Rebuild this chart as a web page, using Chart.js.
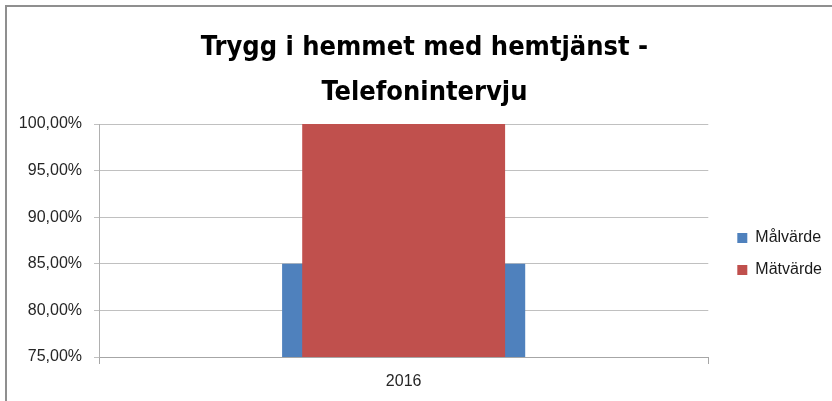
<!DOCTYPE html>
<html>
<head>
<meta charset="utf-8">
<script src="https://cdn.jsdelivr.net/npm/chart.js@4.4.0/dist/chart.umd.min.js"></script>
<style>
html,body{margin:0;padding:0;background:#fff;}
#wrap{position:relative;width:832px;height:401px;overflow:hidden;}
#frame{position:absolute;left:5px;top:5px;right:-10px;bottom:-10px;border-left:2px solid #8f8f8f;border-top:2px solid #8f8f8f;pointer-events:none;}
canvas{display:block;}
</style>
</head>
<body>
<div id="wrap"><canvas id="c" width="832" height="401"></canvas><div id="frame"></div></div>
<script>
const titleLines = ['Trygg i hemmet med hemtjänst -', 'Telefonintervju'];
const categories = ['2016'];
const seriesNames = ['Målvärde', 'Mätvärde'];
const malvarde = [85];
const matvarde = [100];
const yMin = 75, yMax = 100, yStep = 5;

const fmtPct = v => v.toFixed(2).replace('.', ',') + '%';

new Chart(document.getElementById('c'), {
  type: 'bar',
  data: {
    labels: categories,
    datasets: [
      {
        label: seriesNames[0],
        data: malvarde,
        backgroundColor: '#4F81BD',
        borderWidth: 0,
        grouped: false,
        categoryPercentage: 1,
        barPercentage: 0.399,
        order: 1
      },
      {
        label: seriesNames[1],
        data: matvarde,
        backgroundColor: '#C0504D',
        borderWidth: 0,
        grouped: false,
        categoryPercentage: 1,
        barPercentage: 0.333,
        order: 0
      }
    ]
  },
  options: {
    responsive: false,
    animation: false,
    devicePixelRatio: 1,
    layout: { padding: { left: 17, top: 0, right: 0, bottom: 0 } },
    font: { family: "'Liberation Sans', Arial, sans-serif" },
    plugins: {
      tooltip: { enabled: false },
      title: {
        display: true,
        text: titleLines,
        color: '#000',
        font: { family: "'DejaVu Sans Condensed', 'Liberation Sans', sans-serif", size: 27, weight: 'bold', lineHeight: 1.6667 },
        padding: { top: 25, bottom: 9 }
      },
      legend: {
        display: true,
        position: 'right',
        align: 'center',
        fullSize: false,
        title: { display: true, text: ' ', font: { size: 1, lineHeight: 1 }, padding: { top: 13, bottom: 13 } },
        labels: {
          boxWidth: 10,
          boxHeight: 10,
          padding: 16,
          color: '#1a1a1a',
          font: { family: "'Liberation Sans', Arial, sans-serif", size: 16 },
          sort: (a, b) => a.datasetIndex - b.datasetIndex
        }
      }
    },
    scales: {
      x: {
        offset: true,
        grid: { display: true, drawOnChartArea: false, drawTicks: true, tickLength: 7, color: '#a6a6a6', offset: true },
        border: { display: true, color: '#a6a6a6', width: 1 },
        ticks: { color: '#262626', padding: 8, font: { family: "'Liberation Sans', Arial, sans-serif", size: 16 } },
        afterFit: s => { s.height = 44; }
      },
      y: {
        position: 'left',
        min: yMin,
        max: yMax,
        ticks: { stepSize: yStep, color: '#262626', padding: 12, callback: v => fmtPct(v), font: { family: "'Liberation Sans', Arial, sans-serif", size: 16 } },
        grid: { color: '#c0c0c0', tickLength: 5, drawTicks: true },
        border: { display: true, color: '#b0b0b0', width: 1 },
        afterFit: s => { s.width = 82; }
      },
      y2: {
        position: 'right',
        display: true,
        grid: { display: false, drawTicks: false },
        border: { display: false },
        ticks: { display: false },
        afterFit: s => { s.width = 13; }
      }
    }
  }
});
</script>
</body>
</html>
